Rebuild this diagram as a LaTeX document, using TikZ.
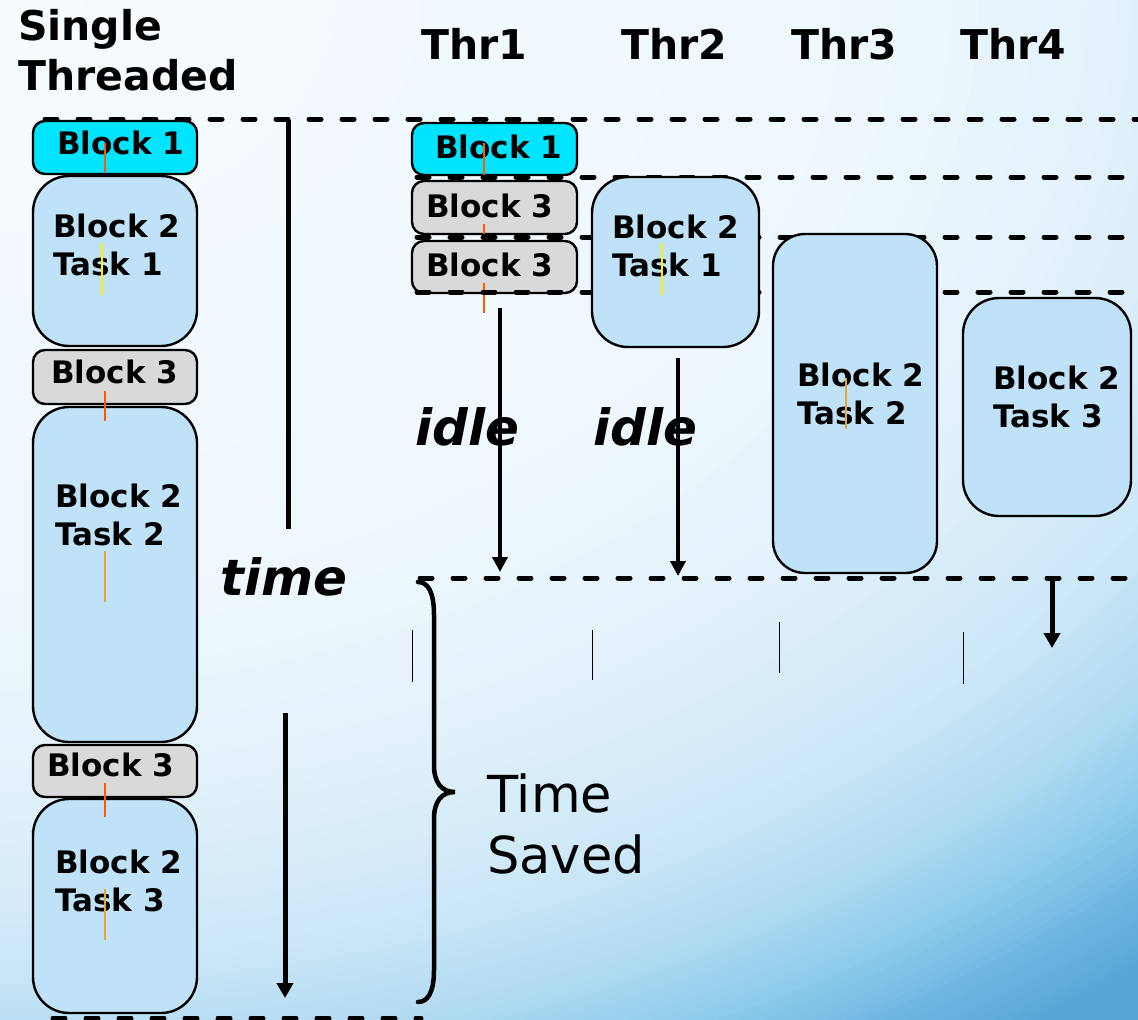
\documentclass[tikz,border=0pt]{standalone}
\usepackage{fontspec}
\setmainfont{DejaVu Sans}[BoldFont={DejaVu Sans Bold},ItalicFont={DejaVu Sans Oblique},BoldItalicFont={DejaVu Sans Bold Oblique}]
\usetikzlibrary{arrows.meta,fit}

\definecolor{taskblue}{HTML}{BFE2F9}
\definecolor{blockgray}{HTML}{D9D9D9}
\definecolor{blockcyan}{HTML}{00E5FF}
\definecolor{strayorange}{HTML}{FF5A00}
\definecolor{strayyellow}{HTML}{FFF200}
\definecolor{strayamber}{HTML}{E8A830}
\definecolor{bgA}{HTML}{F7FBFF}
\definecolor{bgB}{HTML}{EFF8FE}
\definecolor{bgC}{HTML}{E4F2FB}
\definecolor{bgD}{HTML}{CBE7F7}
\definecolor{bgE}{HTML}{B0DAF2}
\definecolor{bgF}{HTML}{90CDED}
\definecolor{bgG}{HTML}{6DB6E1}
\definecolor{bgH}{HTML}{58A5D6}

\begin{document}
\begin{tikzpicture}[x=1pt,y=-1pt,
  boxbase/.style={draw=black, line width=2.4pt, inner sep=0pt, outer sep=0pt},
  taskbox/.style={boxbase, fill=taskblue, rounded corners=36pt},
  graybox/.style={boxbase, fill=blockgray, rounded corners=12pt},
  cyanbox/.style={boxbase, fill=blockcyan, rounded corners=12pt},
  lbl/.style={font=\fontsize{31}{38}\selectfont\bfseries, align=left, inner sep=0pt, anchor=base west},
  hdr/.style={font=\fontsize{41}{50}\selectfont\bfseries, align=left, inner sep=0pt, anchor=base west},
  slanted/.style={font=\fontsize{50}{60}\selectfont\bfseries\itshape, inner sep=0pt, anchor=base west},
  saved/.style={font=\fontsize{51}{61}\selectfont, align=left, inner sep=0pt, anchor=base west},
  guide/.style={line width=5pt, line cap=round, dash pattern=on 12pt off 21pt},
  timeline/.style={line width=5pt},
  bigtip/.style={-{Triangle[length=15pt,width=16pt]}},
  idletip/.style={line width=4pt, -{Triangle[length=15pt,width=15pt]}},
  tick/.style={line width=1pt},
  stray/.style={line width=1.2pt}]

\useasboundingbox (0,0) rectangle (1138,1020);

% backdrop: nested ellipses around the top-left corner, pale inside, blue outside
\begin{scope}
  \clip (0,0) rectangle (1138,1020);
  \fill[bgH] (0,0) rectangle (1138,1020);
  \foreach \ta/\tb/\ca/\cb/\n in {
      0.953/1.000/bgG/bgH/10,
      0.896/0.953/bgF/bgG/10,
      0.843/0.896/bgE/bgF/10,
      0.769/0.843/bgD/bgE/12,
      0.623/0.769/bgC/bgD/16,
      0.470/0.623/bgB/bgC/10,
      0.000/0.470/bgA/bgB/10} {
    \pgfmathtruncatemacro\m{\n-1}
    \foreach \k in {0,...,\m} {
      \pgfmathtruncatemacro\p{100*(1-\k/\n)}
      \pgfmathsetmacro\t{\tb-\k*(\tb-\ta)/\n}
      \colorlet{bgstep}{\cb!\p!\ca}
      \fill[bgstep] (0,0) ellipse [x radius=\t*1790pt, y radius=\t*1262pt];
    }
  }
\end{scope}

% ---------- headings ----------
\node[hdr] (hsingle) at (18,90) {Single\\Threaded};
\node[hdr] (hthr1) at (421,59) {Thr1};
\node[hdr] (hthr2) at (621,59) {Thr2};
\node[hdr] (hthr3) at (791,59) {Thr3};
\node[hdr] (hthr4) at (960,59) {Thr4};

% ---------- single threaded column ----------
\node[cyanbox, fit={(33,121) (197,174)}] (s1) {};
\node[taskbox, fit={(33,176) (197,346)}] (s2) {};
\node[graybox, fit={(33,350) (197,404)}] (s3) {};
\node[taskbox, fit={(33,407) (197,742)}] (s4) {};
\node[graybox, fit={(33,745) (197,797)}] (s5) {};
\node[taskbox, fit={(33,799) (197,1013)}] (s6) {};

\node[lbl] (s1t) at (57,154) {Block 1};
\node[lbl] (s2t) at (53,275) {Block 2\\Task 1};
\node[lbl] (s3t) at (51,383) {Block 3};
\node[lbl] (s4t) at (55,545) {Block 2\\Task 2};
\node[lbl] (s5t) at (47,776) {Block 3};
\node[lbl] (s6t) at (55,911) {Block 2\\Task 3};

% ---------- thread 1 column ----------
\node[cyanbox, fit={(412,123) (577,175)}] (t1a) {};
\node[graybox, fit={(412,181) (577,234)}] (t1b) {};
\node[graybox, fit={(412,241) (577,293)}] (t1c) {};
\node[lbl] (t1at) at (435,158) {Block 1};
\node[lbl] (t1bt) at (426,217) {Block 3};
\node[lbl] (t1ct) at (426,276) {Block 3};

% thin marker strokes inside the blocks
\draw[stray, strayorange] (105,143) -- (105,173);
\draw[stray, strayyellow] (102,243) -- (102,295);
\draw[stray, strayorange, line width=2pt] (105,391) -- (105,421);
\draw[stray, strayamber] (105,551) -- (105,602);
\draw[stray, strayorange, line width=2pt] (105,783) -- (105,817);
\draw[stray, strayamber] (105,889) -- (105,940);
\draw[stray, strayorange] (484,143) -- (484,178);
\draw[stray, strayorange] (484,224) -- (484,234);
\draw[stray, strayorange, line width=2pt] (484,283) -- (484,313);

% ---------- guide lines ----------
\coordinate (g0l) at (45,119);    \coordinate (g0r) at (1138,119);
\coordinate (g1l) at (417,177);   \coordinate (g1r) at (1138,177);
\coordinate (g2l) at (417,237);   \coordinate (g2r) at (1138,237);
\coordinate (g3l) at (417,292);   \coordinate (g3r) at (1138,292);
\coordinate (g4l) at (420,578);   \coordinate (g4r) at (1138,578);
\coordinate (g5l) at (53,1018);   \coordinate (g5r) at (421,1018);
\draw[guide] (g0l) -- (g0r);
\draw[guide] (g1l) -- (g1r);
\draw[guide] (g2l) -- (g2r);
\draw[guide] (g3l) -- (g3r);
\draw[guide] (g4l) -- (g4r);
\draw[guide] (g5l) -- (g5r);

% ---------- threads 2 to 4 ----------
\node[taskbox, fit={(592,177) (759,347)}] (t2) {};
\node[taskbox, rounded corners=32pt, fit={(773,234) (937,573)}] (t3) {};
\node[taskbox, fit={(963,298) (1131,516)}] (t4) {};
\node[lbl] (t2t) at (612,276) {Block 2\\Task 1};
\node[lbl] (t3t) at (797,424) {Block 2\\Task 2};
\node[lbl] (t4t) at (993,427) {Block 2\\Task 3};
\draw[stray, strayyellow] (662,243) -- (662,295);
\draw[stray, strayamber] (846,378) -- (846,429);

% ---------- time axis ----------
\coordinate (ta) at (288,120);
\coordinate (tb) at (288,529);
\coordinate (tc) at (285,713);
\coordinate (td) at (285,998);
\draw[timeline] (ta) -- (tb);
\draw[timeline, bigtip] (tc) -- (td);
\node[slanted] (timelbl) at (220,595) {time};

% ---------- idle waits ----------
\node[slanted] (idle1) at (415,445) {idle};
\node[slanted] (idle2) at (593,445) {idle};
\coordinate (i1a) at (500,308);  \coordinate (i1b) at (500,572);
\coordinate (i2a) at (678,358);  \coordinate (i2b) at (678,576);
\draw[idletip] (i1a) -- (i1b);
\draw[idletip] (i2a) -- (i2b);

\coordinate (f4a) at (1052,578); \coordinate (f4b) at (1052,648);
\draw[timeline, bigtip] (f4a) -- (f4b);

% thin ticks under the finish line
\draw[tick] (412,630) -- (412,682);
\draw[tick] (592,630) -- (592,680);
\draw[tick] (779,622) -- (779,673);
\draw[tick] (963,632) -- (963,684);

% ---------- saved time brace ----------
\draw[line width=4.5pt, line cap=round]
  (418,582) .. controls (428,582) and (434,592) .. (434,615)
  -- (434,765) .. controls (434,782) and (441,792) .. (455,792)
  .. controls (441,792) and (434,802) .. (434,819)
  -- (434,970) .. controls (434,992) and (428,1002) .. (418,1002);
\node[saved] (savedlbl) at (487,873) {Time\\Saved};

\end{tikzpicture}
\end{document}
